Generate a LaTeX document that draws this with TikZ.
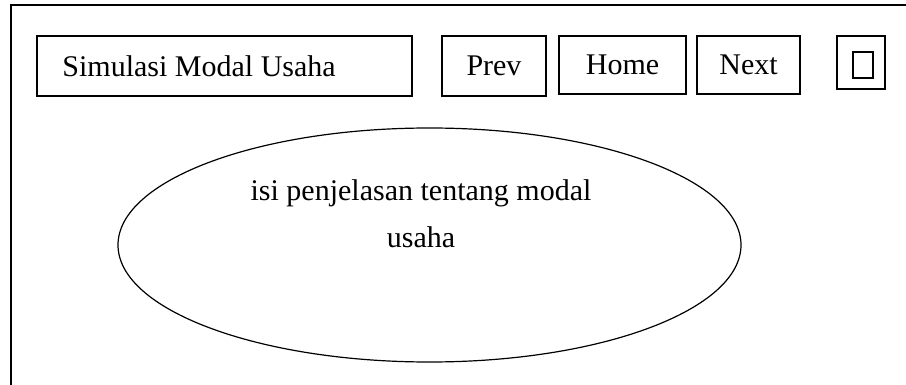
\documentclass[tikz,border=0pt]{standalone}
\usepackage{fontspec}
\setmainfont{Liberation Serif}
\usetikzlibrary{shapes.geometric}
\begin{document}
\begin{tikzpicture}[x=0.5pt,y=-0.5pt,
  frame/.style={line width=0.9pt},
  btn/.style={draw,line width=0.8pt,rectangle,inner sep=0pt,font=\fontsize{15}{18}\selectfont},
  txt/.style={font=\fontsize{15}{23.5}\selectfont,align=center,inner sep=0pt}]
\useasboundingbox (0,0) rectangle (906,385);
\coordinate (tl) at (11,5);
\coordinate (bl) at (11,390);
\coordinate (tr) at (910,5);
\draw[frame] (bl) -- (tl) -- (tr);
\node[btn,minimum width=187.5pt,minimum height=30pt] (title) at (224.5,66) {};
\node[font=\fontsize{15}{18}\selectfont,inner sep=0pt,anchor=west] (titletext) at (62,66) {Simulasi Modal Usaha};
\node[btn,minimum width=52pt,minimum height=30pt] (prev) at (494,66) {Prev};
\node[btn,minimum width=63.5pt,minimum height=29pt] (home) at (622.5,65) {Home};
\node[btn,minimum width=51.5pt,minimum height=29pt] (next) at (748.5,65) {Next};
\node[btn,minimum width=24pt,minimum height=26.5pt] (close) at (861,62.5) {};
\node[draw,line width=0.7pt,rectangle,inner sep=0pt,minimum width=10pt,minimum height=13pt] (glyph) at (863,65) {};
\node[draw,ellipse,line width=0.6pt,inner sep=0pt,minimum width=311.5pt,minimum height=117pt] (oval) at (429.5,245) {};
\node[txt] (desc) at (421,214) {isi penjelasan tentang modal\\usaha};
\end{tikzpicture}
\end{document}
